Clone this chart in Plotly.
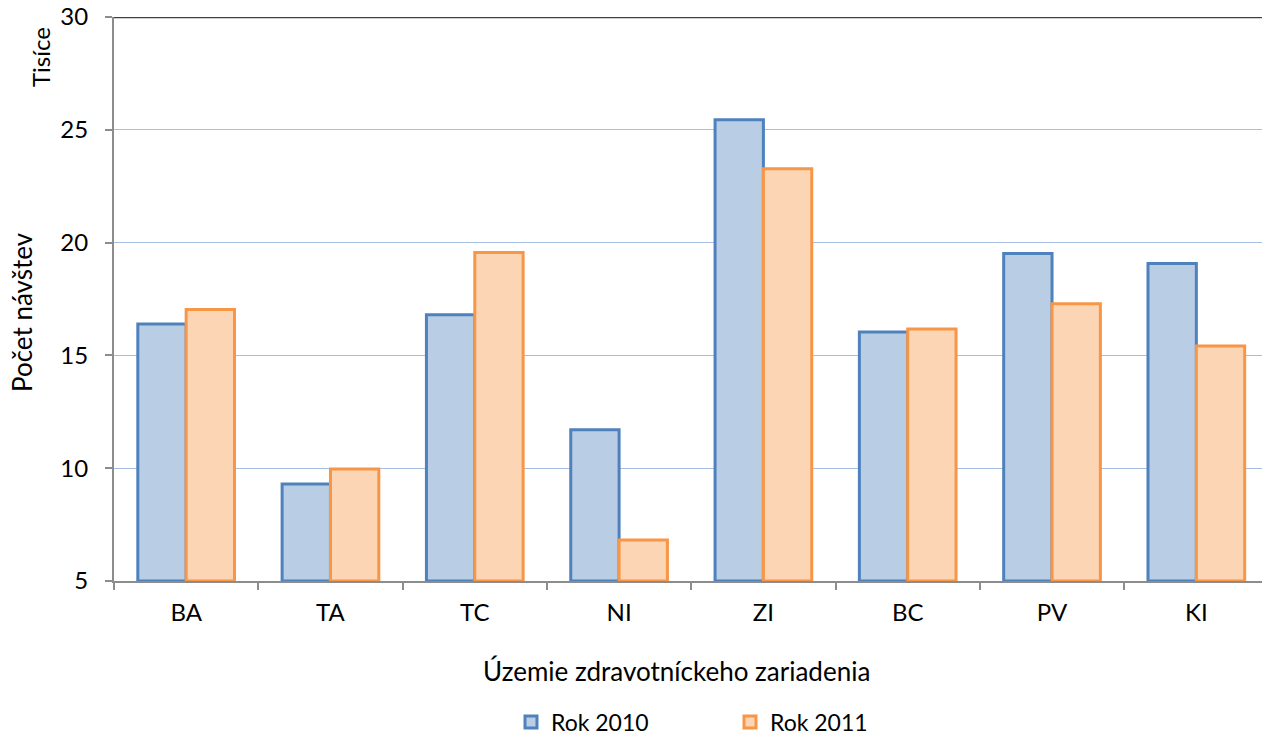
import plotly.graph_objects as go

categories = ["BA", "TA", "TC", "NI", "ZI", "BC", "PV", "KI"]
rok_2010 = [16.39, 9.30, 16.80, 11.70, 25.45, 16.04, 19.52, 19.07]
rok_2011 = [17.03, 9.96, 19.56, 6.82, 23.27, 16.17, 17.29, 15.42]
y_ticks = [5, 10, 15, 20, 25, 30]

W, H = 1262, 736
L, R, T, B = 114, 0, 17, 155
FONT = "Lato"

fig = go.Figure()
fig.add_trace(go.Bar(
    x=categories, y=[v - 5 for v in rok_2010], base=5, name="Rok 2010",
    marker=dict(color="#b9cde5", line=dict(color="#4f81bd", width=3)),
))
fig.add_trace(go.Bar(
    x=categories, y=[v - 5 for v in rok_2011], base=5, name="Rok 2011",
    marker=dict(color="#fcd5b5", line=dict(color="#f79646", width=3)),
))

pw = W - L - R
ph = H - T - B

def px_x(x):
    return (x - L) / pw

def px_y(y):
    return (H - B - y) / ph

fig.update_layout(
    width=W, height=H,
    margin=dict(l=L, r=R, t=T, b=B, autoexpand=False),
    paper_bgcolor="white", plot_bgcolor="white",
    barmode="group", bargap=0.33, bargroupgap=0,
    font=dict(family=FONT, size=24, color="#000000"),
    showlegend=True,
    legend=dict(orientation="h", x=px_x(511), xanchor="left", y=px_y(722), yanchor="middle",
                font=dict(size=23), entrywidth=174, itemwidth=30),
    xaxis=dict(
        range=[-0.5, 7.455], showline=True, linecolor="#8c8c8c", linewidth=2,
        ticks="outside", tickson="boundaries", ticklen=7, tickcolor="#8c8c8c", tickwidth=2,
        showgrid=False, tickfont=dict(size=24), automargin=False, ticklabelstandoff=9,
    ),
    yaxis=dict(
        range=[5, 30], tickvals=y_ticks, showline=True, linecolor="#8c8c8c", linewidth=2,
        ticks="outside", ticklen=7, tickcolor="#8c8c8c", tickwidth=2,
        showgrid=True, gridcolor="#a6bfe2", gridwidth=1, zeroline=False,
        tickfont=dict(size=24), ticklabelstandoff=12, automargin=False,
    ),
    shapes=[dict(type="line", xref="paper", yref="y", x0=0, x1=1, y0=30, y1=30,
                 line=dict(color="#404040", width=2.5))],
    annotations=[
        dict(text="Územie zdravotníckeho zariadenia", xref="paper", yref="paper",
             x=px_x(676), y=px_y(671), xanchor="center", yanchor="middle",
             showarrow=False, font=dict(size=26)),
        dict(text="Počet návštev", xref="paper", yref="paper", textangle=-90,
             x=px_x(22), y=px_y(312), xanchor="center", yanchor="middle",
             showarrow=False, font=dict(size=26)),
        dict(text="Tisíce", xref="paper", yref="paper", textangle=-90,
             x=px_x(41), y=px_y(57), xanchor="center", yanchor="middle",
             showarrow=False, font=dict(size=24)),
    ],
)

fig.write_html("out.html", config={"displayModeBar": False},
               post_script="document.body.style.margin='0';document.body.style.overflow='hidden';")
